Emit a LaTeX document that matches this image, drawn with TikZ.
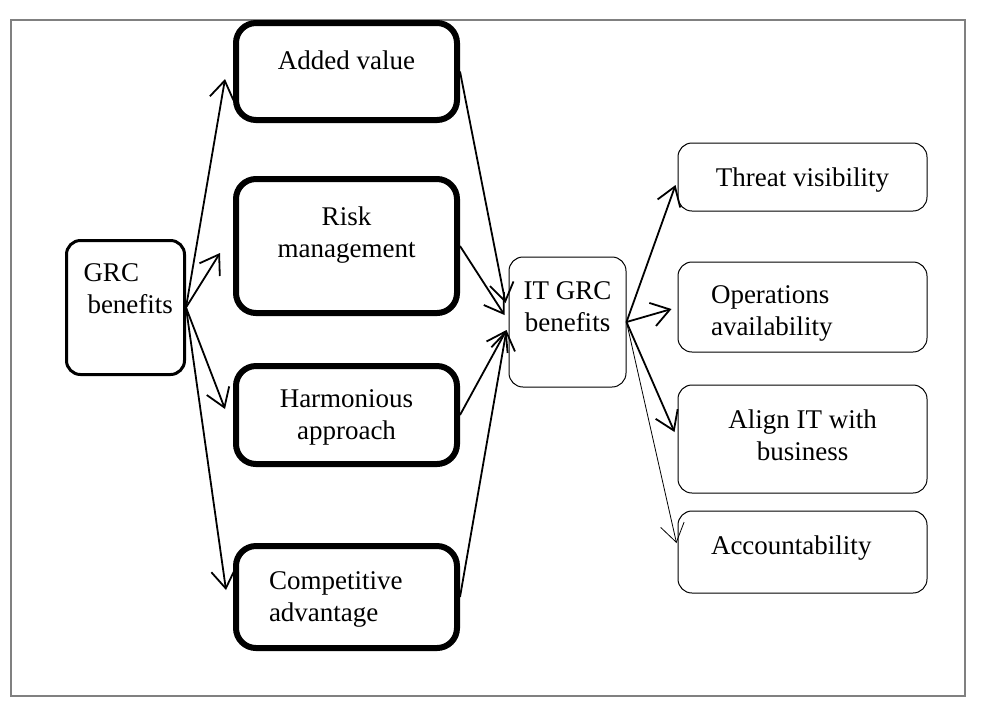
\documentclass[tikz,border=0pt]{standalone}
\usepackage{fontspec}
\setmainfont{Liberation Serif}
\usetikzlibrary{arrows.meta}

\begin{document}
\begin{tikzpicture}[x=0.5pt, y=-0.5pt,
    font=\fontsize{13.5}{16}\selectfont,
    bigbox/.style={draw, line width=3pt, rounded corners=10pt, minimum width=110.5pt, align=center},
    smallbox/.style={draw, line width=0.5pt, rounded corners=7pt, minimum width=124.5pt, align=center},
    link/.style={-{Straight Barb[length=9pt,width=12pt]}, line width=0.9pt}]
  \useasboundingbox (0,0) rectangle (983,714);
  \draw[gray, line width=0.7pt] (11,20) rectangle (965,696);

  \node[draw, line width=1.5pt, rounded corners=7pt, minimum width=59pt, minimum height=67pt,
        align=left, text width=45pt, inner xsep=7pt, text depth=35pt] (grc) at (125.5,307.5)
        {\mbox{\hspace*{1.5pt}GRC}\\ \mbox{\hspace*{3.5pt}benefits}};

  \node[bigbox, minimum height=48.5pt, text depth=11.5pt] (added) at (346.5,71.5) {Added value};
  \node[bigbox, minimum height=67pt, text depth=14pt] (risk) at (346.5,246) {Risk\\ management};
  \node[bigbox, minimum height=49pt, text depth=0pt] (harm) at (346.5,415) {Harmonious\\ approach};
  \node[bigbox, minimum height=51pt, align=left, text width=77.5pt, inner xsep=16.5pt, text depth=16.4pt] (comp) at (346.5,597) {Competitive\\ advantage};

  \node[smallbox, minimum width=58.5pt, minimum height=65pt, text depth=15.5pt] (itgrc) at (567.5,322) {IT GRC\\ benefits};

  \node[smallbox, minimum height=34pt, text depth=0pt] (threat) at (802.5,177) {Threat visibility};
  \node[smallbox, minimum height=45pt, align=left, text width=91.5pt, inner xsep=16.5pt, text depth=12.5pt] (ops) at (802.5,307) {Operations\\ availability};
  \node[smallbox, minimum height=54pt, text depth=3.7pt] (align) at (802.5,439) {Align IT with\\ business};
  \node[smallbox, minimum height=41pt, align=left, text width=91.5pt, inner xsep=16.5pt, text depth=7pt] (acc) at (802.5,552) {Accountability};

  \draw[link] (grc.east) -- ([shift={(-8,7.5)}]added.west);
  \draw[link] (grc.east) -- ([shift={(-13,7)}]risk.west);
  \draw[link] (grc.east) -- ([shift={(-8,-6)}]harm.west);
  \draw[link] (grc.east) -- ([shift={(-7,-7)}]comp.west);

  \draw[link] (added.east) -- ([shift={(-3,-19)}]itgrc.west);
  \draw[link] (risk.east) -- ([shift={(-4,-7)}]itgrc.west);
  \draw[link] (harm.east) -- ([shift={(-2,8)}]itgrc.west);
  \draw[link] (comp.east) -- ([shift={(-2,8)}]itgrc.west);

  \draw[link] (itgrc.east) -- ([shift={(-2,8)}]threat.west);
  \draw[link] (itgrc.east) -- ([shift={(-6,2)}]ops.west);
  \draw[link] (itgrc.east) -- ([shift={(-3,-7)}]align.west);
  \draw[link, line width=0.4pt] (itgrc.east) -- ([shift={(-1,-9)}]acc.west);
\end{tikzpicture}
\end{document}
